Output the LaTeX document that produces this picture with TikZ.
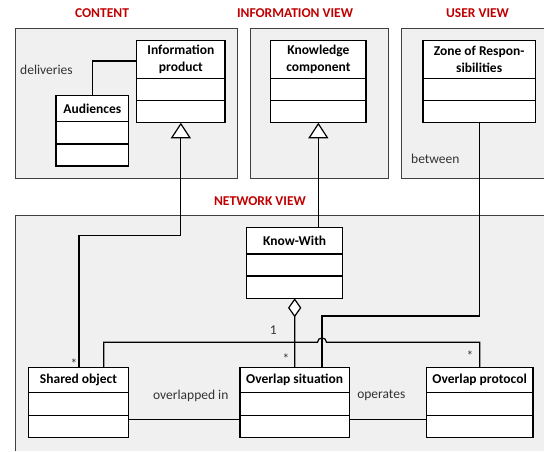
\documentclass[tikz,border=0pt]{standalone}
\usepackage{fontspec}
\setmainfont{Carlito}
\usetikzlibrary{arrows.meta}
\definecolor{viewred}{HTML}{C00000}
\definecolor{framefill}{HTML}{F0F0F0}
\definecolor{framedraw}{HTML}{404040}
\tikzset{
  x=1pt, y=-1pt,
  every node/.style={font=\fontsize{13.5}{16.7}\selectfont},
  frame/.style={draw=framedraw, line width=0.9pt},
  framebg/.style={fill=framefill},
  clsbox/.style={draw=black, fill=white, line width=1.2pt, inner sep=0pt, outer sep=0pt},
  divline/.style={draw=black, line width=1.2pt},
  clstitle/.style={inner sep=0pt, align=center, font=\fontsize{13.5}{16.7}\selectfont\bfseries},
  viewtitle/.style={inner sep=0pt, text=viewred, font=\fontsize{13.5}{16.7}\selectfont\bfseries},
  lbl/.style={inner sep=0pt, text=black!80},
  conn/.style={draw=black, line width=1.2pt},
  gen/.style={conn, -{Triangle[length=15.6pt, width=20pt, fill=white, line width=1.2pt]}},
  agg/.style={conn, -{Diamond[length=19pt, width=13.3pt, fill=white, line width=1.2pt]}},
}
\newcommand\umlclass[8]{%
  \node[clsbox, anchor=north west, minimum width={(#4-#2)*1pt}, minimum height={(#5-#3)*1pt}] (#1) at (#2,#3) {};
  \draw[divline] (#2,#6) -- (#4,#6) (#2,#7) -- (#4,#7);
  \node[clstitle] (#1-t) at ({(#2+#4)/2},{(#3+#6)/2}) {#8};
}
\begin{document}
\begin{tikzpicture}
\useasboundingbox (0,0) rectangle (544,451);
% frames
\fill[framebg] (15.7,28.3) rectangle (237,178);
\draw[frame] (15.7,28.3) rectangle (237,178);
\fill[framebg] (250,28.3) rectangle (388.7,178);
\draw[frame] (250,28.3) rectangle (388.7,178);
\fill[framebg] (401.3,28.3) rectangle (544,178);
\draw[frame] (544,28.3) -- (401.3,28.3) -- (401.3,178) -- (544,178);
\fill[framebg] (15.7,215.7) rectangle (544,451);
\draw[frame] (15.7,451) -- (15.7,215.7) -- (544,215.7);
% view titles
\node[viewtitle] (tcontent) at (102,13.3) {CONTENT};
\node[viewtitle] (tinfo) at (295,13.3) {INFORMATION VIEW};
\node[viewtitle] (tuser) at (477.5,13.3) {USER VIEW};
\node[viewtitle] (tnet) at (260,200.7) {NETWORK VIEW};
% classes
\umlclass{ip}{136.7}{40.7}{225}{122.7}{78.3}{100.3}{Information\\product}
\umlclass{aud}{56}{95.7}{128.7}{166}{121.7}{144}{Audiences}
\umlclass{kc}{270.7}{40.7}{366}{122.7}{78.3}{100.3}{Knowledge\\component}
\umlclass{zr}{423}{40.7}{535.3}{122.7}{78.3}{100.3}{Zone of Respon-\\sibilities}
\umlclass{kw}{246.7}{227.7}{342.7}{298.3}{254}{276}{Know-With}
\umlclass{sh}{28.3}{367.3}{128.7}{437.3}{392.7}{415.7}{Shared object}
\umlclass{os}{240}{367.3}{349.3}{437.3}{392.7}{415.7}{Overlap situation}
\umlclass{op}{426.3}{367.3}{533}{437.3}{392.7}{415.7}{Overlap protocol}
% labels
\node[lbl, anchor=west] (ldeliv) at (20,70) {deliveries};
\node[lbl, anchor=west] (lbetween) at (411,159.3) {between};
\node[lbl] (lover) at (190.8,395.7) {overlapped in};
\node[lbl] (loper) at (381.3,395.7) {operates};
\node[lbl] (lone) at (273.3,330) {1};
\node[lbl] (ls1) at (74,363.5) {*};
\node[lbl] (ls2) at (286,359) {*};
\node[lbl] (ls3) at (470,356) {*};
% connectors
\draw[conn] (aud.north -| 92.3,0) |- (ip.west |- 0,61);
\draw[gen] (sh.north -| 79,0) |- (ip.south |- 0,235.7) -- (ip.south);
\draw[gen] (kc.south |- kw.north) -- (kc.south);
\draw[conn] (zr.south) |- (322,316) -- (os.north -| 322,0);
\draw[agg] (os.north) -- (kw.south);
\draw[conn] (sh.north -| 103.7,0) |- (317.5,342.3) .. controls (317.5,336.5) and (326.5,336.5) .. (326.5,342.3) -- (op.north |- 0,342.3) -- (op.north);
\draw[conn] (sh.east |- 0,419.7) -- (os.west |- 0,419.7);
\draw[conn] (os.east |- 0,419.7) -- (op.west |- 0,419.7);
\end{tikzpicture}
\end{document}
